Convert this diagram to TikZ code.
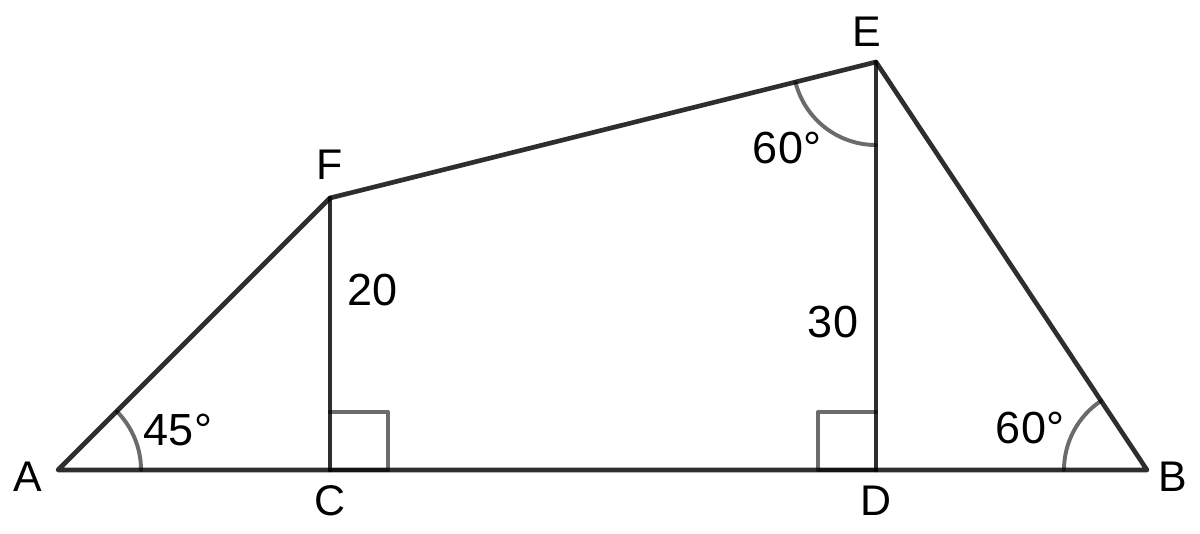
\documentclass[tikz,border=0pt]{standalone}
\usepackage{fontspec}
\setmainfont{Liberation Sans}
\begin{document}
\begin{tikzpicture}[x=0.025cm,y=0.025cm,
  edge/.style={draw=black,draw opacity=0.82,line width=3.3pt,line cap=round,line join=round},
  anglemark/.style={draw=black!58,line width=2.8pt,line cap=round,line join=round},
  vlabel/.style={font=\fontsize{30.5}{34}\selectfont,inner sep=0pt},
  nlabel/.style={font=\fontsize{32}{36}\selectfont,inner sep=0pt}]
\useasboundingbox (0,0) rectangle (1200,533);
\coordinate (A) at (58,63);
\coordinate (C) at (330,63);
\coordinate (D) at (876,63);
\coordinate (B) at (1147,63);
\coordinate (F) at (330,335);
\coordinate (E) at (876,471);
% angle marks
\draw[anglemark] (A) ++(0:2.075cm) arc[start angle=0,end angle=45,radius=2.075cm];
\draw[anglemark] (B) ++(123.6:2.075cm) arc[start angle=123.6,end angle=180,radius=2.075cm];
\draw[anglemark] (E) ++(194:2.075cm) arc[start angle=194,end angle=270,radius=2.075cm];
\draw[anglemark] (C) -- (388,63) -- (388,121) -- (330,121);
\draw[anglemark] (D) -- (818,63) -- (818,121) -- (876,121);
% edges
\draw[edge] (A) -- (B) -- (E) -- (F) -- cycle;
\draw[edge] (F) -- (C);
\draw[edge] (E) -- (D);
% labels
\node[vlabel] (lA) at (28,56) {A};
\node[vlabel] (lC) at (330,32) {C};
\node[vlabel] (lD) at (876,32) {D};
\node[vlabel] (lB) at (1173,56) {B};
\node[vlabel] (lF) at (330,368) {F};
\node[vlabel] (lE) at (867,501) {E};
\node[nlabel] (n20) at (373,243) {20};
\node[nlabel] (n30) at (833,211) {30};
\node[nlabel] (a45) at (178,103) {45°};
\node[nlabel] (a60b) at (1030,105) {60°};
\node[nlabel] (a60e) at (787,385) {60°};
\end{tikzpicture}
\end{document}
